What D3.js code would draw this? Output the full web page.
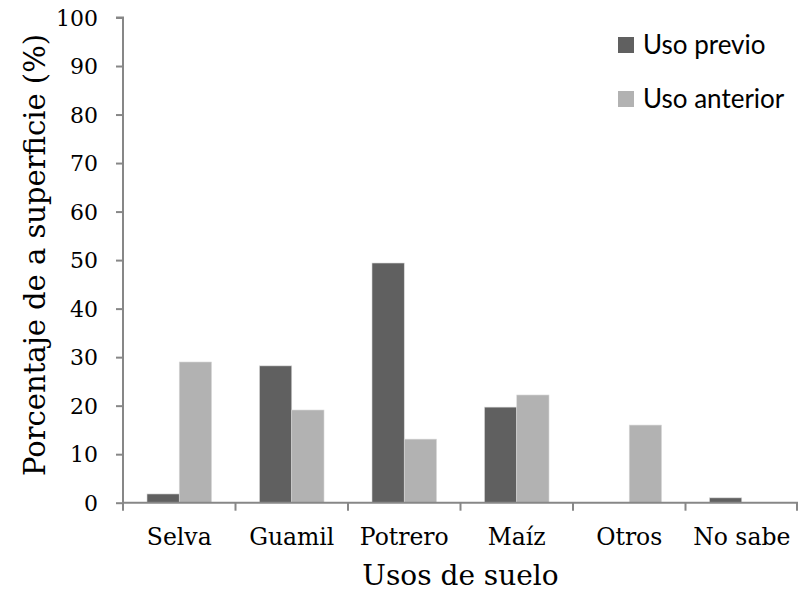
<!DOCTYPE html>
<html><head><meta charset="utf-8">
<script src="https://cdn.jsdelivr.net/npm/d3@7"></script>
<style>body{margin:0;background:#fff}</style>
</head><body>
<svg id="c" width="798" height="592"></svg>
<script>
const categories = ["Selva","Guamil","Potrero","Maíz","Otros","No sabe"];
const seriesNames = ["Uso previo","Uso anterior"];
const usoPrevio = [1.8, 28.2, 49.4, 19.7, 0, 1.0];
const usoAnterior = [29.0, 19.1, 13.1, 22.2, 16.0, 0];
const yTicks = [0,10,20,30,40,50,60,70,80,90,100];
const colors = ["#606060","#b2b2b2"];

const svg = d3.select("#c");
const m = {left:123, right:798, top:17.5, bottom:502.7};
const x = d3.scaleBand().domain(categories).range([m.left, m.right]).paddingInner(0).paddingOuter(0);
const y = d3.scaleLinear().domain([0,100]).range([m.bottom, m.top]);
const inner = d3.scaleBand().domain(seriesNames).range([24, x.bandwidth()-24]).paddingInner(0).paddingOuter(0);

const data = categories.map((c,i)=>({c, vals:[usoPrevio[i], usoAnterior[i]]}));
const g = svg.append("g");
data.forEach(d=>{
  d.vals.forEach((v,j)=>{
    if(v<=0) return;
    g.append("rect")
      .attr("x", x(d.c)+inner(seriesNames[j]))
      .attr("y", y(v))
      .attr("width", inner.bandwidth())
      .attr("height", y(0)-y(v))
      .attr("fill", colors[j])
      .attr("stroke","#d8d8d8").attr("stroke-width",0.6);
  });
});

const axisColor = "#878787";
// Y axis
const ya = svg.append("g").attr("transform",`translate(${m.left},0)`)
  .call(d3.axisLeft(y).tickValues(yTicks).tickSize(7).tickPadding(18));
ya.select(".domain").attr("stroke",axisColor).attr("stroke-width",2).attr("d",`M-7,${m.top}H0V${m.bottom}`);
ya.selectAll(".tick line").attr("stroke",axisColor).attr("stroke-width",2);
ya.selectAll(".tick text").attr("font-family","DejaVu Serif").attr("font-size",22).attr("fill","#000").attr("dy","0.35em");

// X axis
const xa = svg.append("g").attr("transform",`translate(0,${m.bottom})`)
  .call(d3.axisBottom(x).tickSize(0).tickPadding(25.5));
xa.select(".domain").attr("stroke",axisColor).attr("stroke-width",2).attr("d",`M${m.left},0H${m.right}`);
xa.selectAll(".tick text").attr("font-family","DejaVu Serif").attr("font-size",23.5).attr("fill","#000");
const bounds = categories.map(c=>x(c)).concat([x(categories[categories.length-1])+x.bandwidth()]);
svg.append("g").selectAll("line").data(bounds).join("line")
  .attr("x1",d=>Math.min(d,797)).attr("x2",d=>Math.min(d,797)).attr("y1",m.bottom).attr("y2",m.bottom+8)
  .attr("stroke",axisColor).attr("stroke-width",2);

// Titles
svg.append("text").attr("x",(m.left+m.right)/2).attr("y",584.5)
  .attr("text-anchor","middle").attr("font-family","DejaVu Serif").attr("font-size",28).text("Usos de suelo");
svg.append("text").attr("transform",`translate(45,255) rotate(-90)`)
  .attr("text-anchor","middle").attr("font-family","DejaVu Serif").attr("font-size",29).text("Porcentaje de a superficie (%)");

// Legend
const lg = svg.append("g");
seriesNames.forEach((s,i)=>{
  const cy = 45 + i*54;
  lg.append("rect").attr("x",618).attr("y",cy-8).attr("width",16).attr("height",16).attr("fill",colors[i]);
  lg.append("text").attr("x",643).attr("y",cy).attr("dy","0.35em").attr("font-family","Lato").attr("font-size",26).text(s);
});
</script>
</body></html>
